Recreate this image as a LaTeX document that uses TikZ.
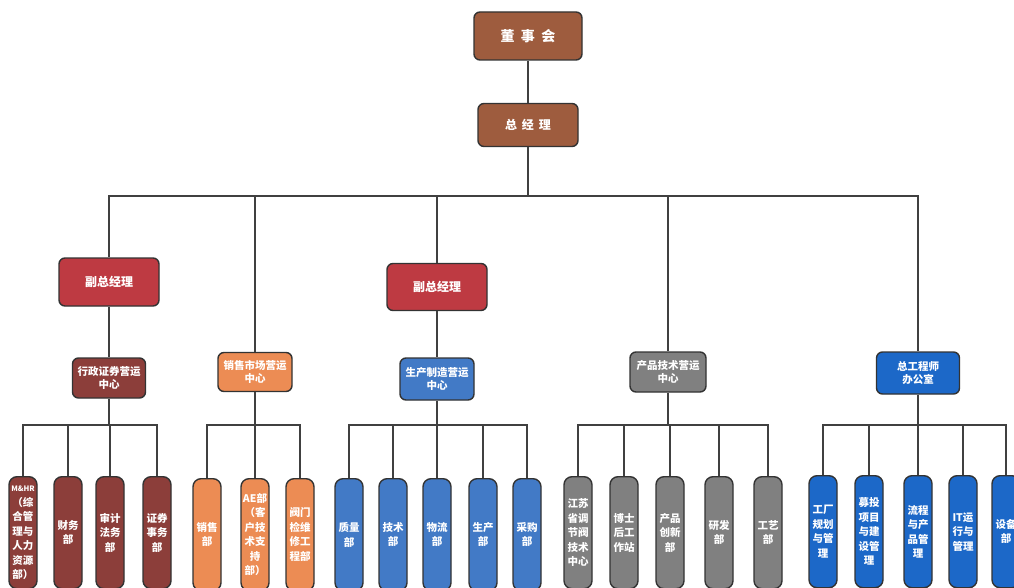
\documentclass[tikz,border=0pt]{standalone}
\usepackage{fontspec}
\newfontfamily\cjk{Noto Sans CJK SC}
\usetikzlibrary{calc,positioning}
\definecolor{topbrown}{RGB}{158,92,62}
\definecolor{vpred}{RGB}{190,58,66}
\definecolor{deepbrown}{RGB}{140,62,58}
\definecolor{salesorange}{RGB}{236,140,84}
\definecolor{prodblue}{RGB}{66,122,198}
\definecolor{engblue}{RGB}{28,104,200}
\definecolor{techgray}{RGB}{128,128,128}
\tikzset{
	box/.style={draw=black!80, line width=1.4pt, rounded corners=6pt, text=white,
		align=center, inner sep=0pt, font=\cjk\bfseries\fontsize{10.5}{13}\selectfont},
	leafbox/.style={box, anchor=north, minimum width=28pt, minimum height=112pt,
		rounded corners=8pt, font=\cjk\bfseries\fontsize{10.5}{14.5}\selectfont},
	link/.style={draw=black!75, line width=1.2pt}
}

\begin{document}
\begin{tikzpicture}[x=1pt,y=-1pt]

	\useasboundingbox (0,0) rectangle (1014,588);
	\clip (0,0) rectangle (1014,588);

	%% top of the tree
	\node[box, fill=topbrown, minimum width=108pt, minimum height=48pt,
		font=\cjk\bfseries\fontsize{14}{16}\selectfont] (DSH) at (528,36) {董\hspace{0.45em}事\hspace{0.45em}会};
	\node[box, fill=topbrown, minimum width=100pt, minimum height=43pt,
		font=\cjk\bfseries\fontsize{12}{14}\selectfont] (ZJL) at (528,125) {总\hspace{0.4em}经\hspace{0.4em}理};
	\coordinate (B0) at (528,196); % main bar

	%% vice managers
	\node[box, fill=vpred, minimum width=100pt, minimum height=48pt,
		font=\cjk\bfseries\fontsize{12}{14}\selectfont] (FZ1) at (109,282) {副总经理};
	\node[box, fill=vpred, minimum width=100pt, minimum height=47pt,
		font=\cjk\bfseries\fontsize{12}{14}\selectfont] (FZ2) at (437,287) {副总经理};

	%% centres
	\node[box, fill=deepbrown, minimum width=73pt, minimum height=40pt] (XZ) at (109,378) {行政证券营运\\中心};
	\node[box, fill=salesorange, minimum width=74pt, minimum height=39pt] (XS) at (255,372) {销售市场营运\\中心};
	\node[box, fill=prodblue, minimum width=74pt, minimum height=42pt] (SC) at (437,379) {生产制造营运\\中心};
	\node[box, fill=techgray, minimum width=76pt, minimum height=40pt] (CP) at (668,372) {产品技术营运\\中心};
	\node[box, fill=engblue, minimum width=83pt, minimum height=42pt] (ZG) at (918,373) {总工程师\\办公室};

	\coordinate (B1) at (109,425);
	\coordinate (B2) at (255,425);
	\coordinate (B3) at (437,425);
	\coordinate (B4) at (668,425);
	\coordinate (B5) at (918,425);

	%% departments
	\node[leafbox, fill=deepbrown] (L11) at (23,476) {{\fontsize{7.5}{14.5}\selectfont M\&HR}\\（综\\合管\\理与\\人力\\资源\\部）};
	\node[leafbox, fill=deepbrown] (L12) at (68,476) {财务\\部};
	\node[leafbox, fill=deepbrown] (L13) at (110,476) {审计\\法务\\部};
	\node[leafbox, fill=deepbrown] (L14) at (157,476) {证券\\事务\\部};

	\node[leafbox, fill=salesorange] (L21) at (207,478) {销售\\部};
	\node[leafbox, fill=salesorange] (L22) at (255,478) {AE部\\（客\\户技\\术支\\持\\部）};
	\node[leafbox, fill=salesorange] (L23) at (300,478) {阀门\\检维\\修工\\程部};

	\node[leafbox, fill=prodblue] (L31) at (349,478) {质量\\部};
	\node[leafbox, fill=prodblue] (L32) at (393,478) {技术\\部};
	\node[leafbox, fill=prodblue] (L33) at (437,478) {物流\\部};
	\node[leafbox, fill=prodblue] (L34) at (483,478) {生产\\部};
	\node[leafbox, fill=prodblue] (L35) at (527,478) {采购\\部};

	\node[leafbox, fill=techgray] (L41) at (578,476) {江苏\\省调\\节阀\\技术\\中心};
	\node[leafbox, fill=techgray] (L42) at (624,476) {博士\\后工\\作站};
	\node[leafbox, fill=techgray] (L43) at (670,476) {产品\\创新\\部};
	\node[leafbox, fill=techgray] (L44) at (719,476) {研发\\部};
	\node[leafbox, fill=techgray] (L45) at (768,476) {工艺\\部};

	\node[leafbox, fill=engblue] (L51) at (823,475) {工厂\\规划\\与管\\理};
	\node[leafbox, fill=engblue] (L52) at (869,475) {募投\\项目\\与建\\设管\\理};
	\node[leafbox, fill=engblue] (L53) at (918,475) {流程\\与产\\品管\\理};
	\node[leafbox, fill=engblue] (L54) at (963,475) {IT运\\行与\\管理};
	\node[leafbox, fill=engblue] (L55) at (1006,475) {设备\\部};

	%% connectors
	\draw[link] (DSH) -- (ZJL);
	\draw[link] (ZJL) -- (B0);
	\draw[link] (B0) -| (FZ1);
	\draw[link] (B0) -| (XS);
	\draw[link] (B0) -| (FZ2);
	\draw[link] (B0) -| (CP);
	\draw[link] (B0) -| (ZG);
	\draw[link] (FZ1) -- (XZ);
	\draw[link] (FZ2) -- (SC);

	\draw[link] (XZ) -- (B1);
	\draw[link] (B1) -| (L11);
	\draw[link] (B1) -| (L12);
	\draw[link] (B1) -| (L13);
	\draw[link] (B1) -| (L14);

	\draw[link] (XS) -- (B2);
	\draw[link] (B2) -| (L21);
	\draw[link] (B2) -| (L22);
	\draw[link] (B2) -| (L23);

	\draw[link] (SC) -- (B3);
	\draw[link] (B3) -| (L31);
	\draw[link] (B3) -| (L32);
	\draw[link] (B3) -| (L33);
	\draw[link] (B3) -| (L34);
	\draw[link] (B3) -| (L35);

	\draw[link] (CP) -- (B4);
	\draw[link] (B4) -| (L41);
	\draw[link] (B4) -| (L42);
	\draw[link] (B4) -| (L43);
	\draw[link] (B4) -| (L44);
	\draw[link] (B4) -| (L45);

	\draw[link] (ZG) -- (B5);
	\draw[link] (B5) -| (L51);
	\draw[link] (B5) -| (L52);
	\draw[link] (B5) -| (L53);
	\draw[link] (B5) -| (L54);
	\draw[link] (B5) -| (L55);
\end{tikzpicture}
\end{document}
